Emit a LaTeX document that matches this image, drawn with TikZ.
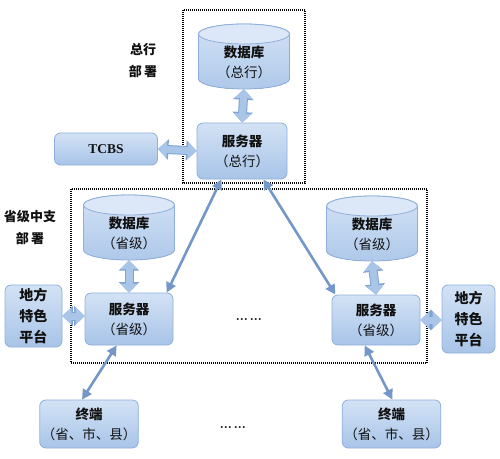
\documentclass[tikz,border=0pt]{standalone}
\usepackage{fontspec}
\setmainfont{Noto Sans CJK SC}
\newfontfamily\latinfont{Liberation Serif}
\usetikzlibrary{arrows.meta,calc}
\definecolor{ink}{HTML}{111111}
\definecolor{ink2}{HTML}{333333}
\definecolor{boxtop}{HTML}{D3E2F5}
\definecolor{boxbot}{HTML}{A8C4E8}
\definecolor{boxedge}{HTML}{8EAFDB}
\definecolor{captop}{HTML}{DCE8F7}
\definecolor{blockc}{HTML}{A9C5E8}
\definecolor{blockedge}{HTML}{7FA3D2}
\definecolor{linkc}{HTML}{7397C8}
\tikzset{
  every node/.style={font=\fontsize{13.5}{20}\selectfont, text=ink, align=center},
  box/.style={draw=boxedge, rounded corners=6pt, top color=boxtop, bottom color=boxbot, line width=0.8pt, inner sep=2pt},
  % cylinder drawn in the upper 66pt of the node, so the text sits a little low
  cyl/.style={inner sep=0pt, minimum width=93pt, minimum height=78pt,
    path picture={
      \fill[top color=boxtop, bottom color=boxbot, draw=boxedge, line width=0.8pt]
        ($(path picture bounding box.north west)+(1,11)$) -- ($(path picture bounding box.south west)+(1,-22)$)
        arc[start angle=180, end angle=360, x radius=45.5pt, y radius=10pt]
        -- ($(path picture bounding box.north east)+(-1,11)$)
        arc[start angle=0, end angle=180, x radius=45.5pt, y radius=10pt] -- cycle;
      \fill[captop, draw=boxedge, line width=0.8pt]
        ($(path picture bounding box.north)+(0,11)$) ellipse[x radius=45.5pt, y radius=10pt];
    }},
  frame/.style={draw=black, line width=1.1pt, dash pattern=on 1pt off 1pt},
  blockarr/.style={draw=blockc, line width=7pt, {Triangle[width=17pt,length=9pt]}-{Triangle[width=17pt,length=9pt]},
    preaction={draw=blockedge, line width=9pt, {Triangle[width=20pt,length=10.5pt]}-{Triangle[width=20pt,length=10.5pt]}}},
  linkarr/.style={draw=linkc, line width=2.6pt, {Triangle[width=10pt,length=10pt]}-{Triangle[width=10pt,length=10pt]}},
  deploy/.style={font=\fontsize{13}{22}\selectfont\bfseries},
  platform/.style={box, inner sep=1pt, font=\fontsize{14}{21}\selectfont\bfseries},
  dots/.style={font=\fontsize{12}{12}\selectfont\latinfont\bfseries},
}
\begin{document}
\begin{tikzpicture}[x=1pt, y=-1pt]
  \useasboundingbox (0,0) rectangle (500,458);

  % dotted frames
  \draw[frame] (183,10) rectangle (305,183);
  \draw[frame] (71,189) rectangle (427,363);

  % head office
  \node[cyl] (dbHQ) at (244,62) {\textbf{数据库}\\（总行）};
  \node[box, minimum width=90pt, minimum height=56pt] (srvHQ) at (242,151) {\textbf{服务器}\\（总行）};
  \node[box, minimum width=103pt, minimum height=32pt] (tcbs) at (106,149) {\latinfont\bfseries TCBS};
  \node[deploy] (hqLabel) at (143,61) {总行\\部\,署};

  % provincial branches
  \node[deploy] (provLabel) at (30,227) {省级中支\\部\,署};
  \node[cyl] (dbL) at (129,233) {\textbf{数据库}\\（省级）};
  \node[box, minimum width=88pt, minimum height=52pt] (srvL) at (129,319) {\textbf{服务器}\\（省级）};
  \node[platform, minimum width=57pt, minimum height=62pt] (localL) at (33.5,316) {地方\\特色\\平台};
  \node[cyl] (dbR) at (372,234) {\textbf{数据库}\\（省级）};
  \node[box, minimum width=88pt, minimum height=50pt] (srvR) at (376,320) {\textbf{服务器}\\（省级）};
  \node[platform, minimum width=53pt, minimum height=68pt] (localR) at (468.5,319) {地方\\特色\\平台};
  \node[dots] (midDots) at (249,321) {···\,···};

  % terminals
  \node[box, minimum width=94pt, minimum height=48pt] (termL) at (89,424) {\textbf{终端}\\（省、市、县）};
  \node[box, minimum width=93pt, minimum height=48pt] (termR) at (391.5,424) {\textbf{终端}\\（省、市、县）};
  \node[dots] (lowDots) at (233,429) {···\,···};

  % connections
  \draw[blockarr] ($(dbHQ.south)+(0,-12)$) -- (srvHQ.north);
  \draw[blockarr] (tcbs.east) -- (srvHQ.west);
  \draw[blockarr] ($(dbL.south)+(0,-12)$) -- (srvL.north);
  \draw[blockarr] ($(dbR.south)+(0,-12)$) -- (srvR.north);
  \draw[blockarr] (localL.east) -- (localL.east -| srvL.west);
  \draw[blockarr] (srvR.east) -- (srvR.east -| localR.west);
  \draw[linkarr] (srvHQ.234) -- (srvL.35);
  \draw[linkarr] (srvHQ.-53) -- (srvR.148);
  \draw[linkarr] (termL.106) -- (srvL.245);
  \draw[linkarr] (termR.88) -- (srvR.246);
\end{tikzpicture}
\end{document}
